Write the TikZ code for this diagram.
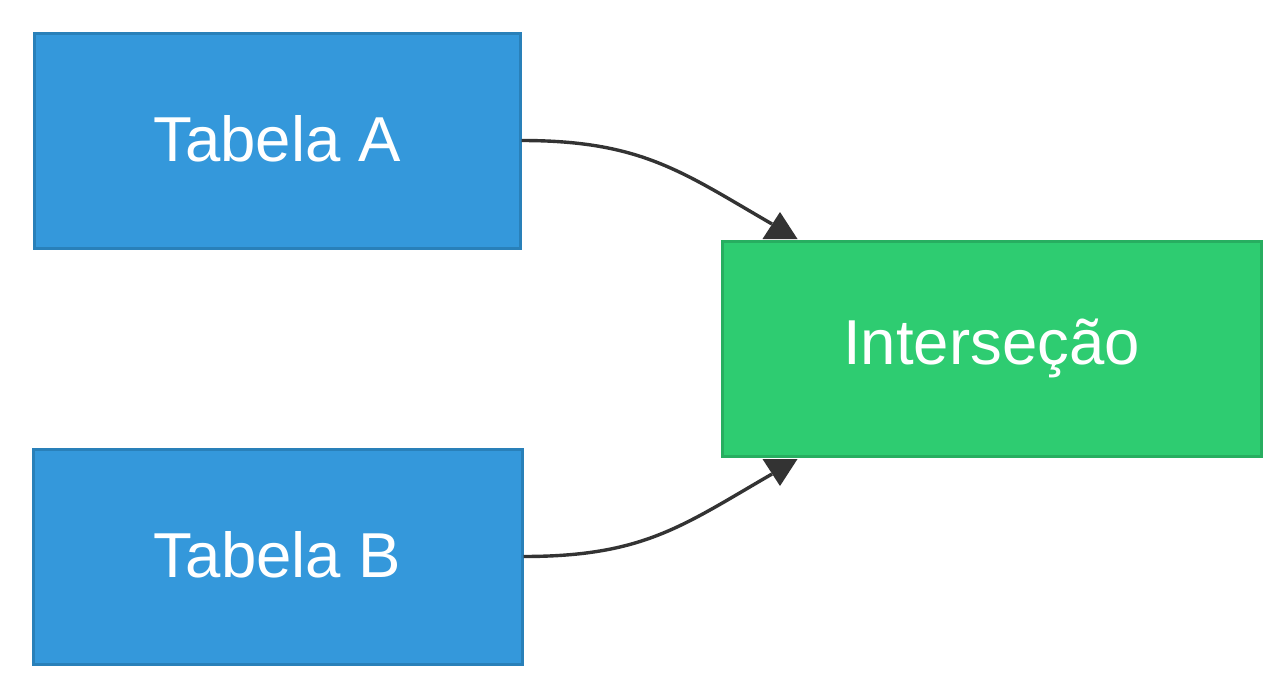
\documentclass[tikz,border=0pt]{standalone}
\usepackage{fontspec}
\setmainfont{Liberation Sans}
\definecolor{bfill}{HTML}{3498DB}
\definecolor{bline}{HTML}{2980B9}
\definecolor{gfill}{HTML}{2ECC71}
\definecolor{gline}{HTML}{27AE60}
\definecolor{edge}{HTML}{333333}
\begin{document}
\begin{tikzpicture}[x=1pt,y=-1pt,
  box/.style={draw, line width=3pt, inner sep=0pt, text=white,
    font=\fontsize{63.5}{76}\selectfont, anchor=north west},
  bluebox/.style={box, fill=bfill, draw=bline},
  greenbox/.style={box, fill=gfill, draw=gline},
  conn/.style={draw=edge, line width=3.4pt},
  tip/.style={fill=edge}]
\useasboundingbox (0,0) rectangle (1288,696);
\node[bluebox, minimum width=486pt, minimum height=215pt] (a) at (32.5,31.5) {\raisebox{5pt}{Tabela A}};
\node[bluebox, minimum width=489pt, minimum height=215pt] (b) at (31.5,447.5) {\raisebox{5pt}{Tabela B}};
\node[greenbox, minimum width=539pt, minimum height=215pt] (c) at (720.5,239.5) {\raisebox{1pt}{Interseção}};
\coordinate (ta) at ([xshift=59.5pt,yshift=27.5pt]c.north west);
\coordinate (tb) at ([xshift=59.5pt,yshift=-28.5pt]c.south west);
\draw[conn] (a.east) .. controls +(120,0) and +(-90,-52) .. ([xshift=-8pt,yshift=-12pt]ta);
\draw[conn] (b.east) .. controls +(120,0) and +(-90,52) .. ([xshift=-8pt,yshift=12pt]tb);
\fill[tip] (ta) -- ++(-17.5,27) -- ++(35,0) -- cycle;
\fill[tip] (tb) -- ++(-17.5,-27) -- ++(35,0) -- cycle;
\end{tikzpicture}
\end{document}
